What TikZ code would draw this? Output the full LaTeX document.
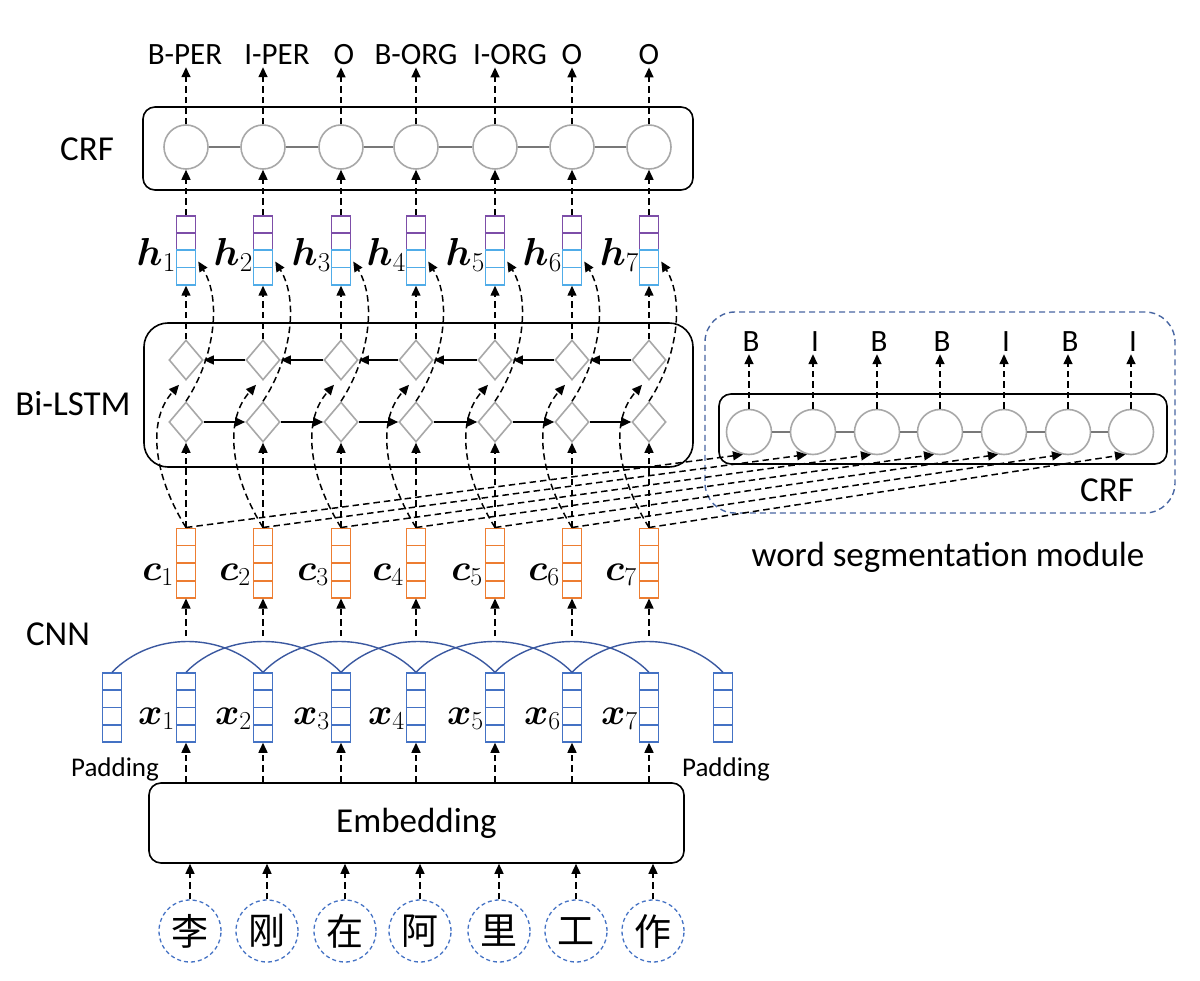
\documentclass[tikz,border=0pt]{standalone}
\usepackage{fix-cm}
\usepackage{fontspec}
\setmainfont{Carlito}
\newfontfamily\cjk{Noto Sans CJK SC}
\usepackage{bm}
\usetikzlibrary{shapes.geometric,arrows.meta,calc}
\definecolor{gcol}{RGB}{168,168,168}
\definecolor{glin}{RGB}{120,120,120}
\definecolor{hpur}{RGB}{125,78,168}
\definecolor{hblu}{RGB}{80,172,232}
\definecolor{corg}{RGB}{237,125,49}
\definecolor{xblu}{RGB}{68,114,196}
\definecolor{arcb}{RGB}{58,88,160}
\definecolor{wsb}{RGB}{72,102,162}
\begin{document}
\begin{tikzpicture}[x=1pt,y=-1pt,
  darr/.style={draw=black, line width=1.5pt, dash pattern=on 6.5pt off 4pt, -{Triangle[length=10pt,width=9pt]}},
  sarr/.style={draw=black, line width=1.5pt, -{Triangle[length=10pt,width=9pt]}},
  bbox/.style={draw=black, line width=1.6pt, rounded corners=12pt, inner sep=0pt},
  crfc/.style={circle, draw=gcol, line width=1.6pt, fill=white, minimum size=44pt, inner sep=0pt},
  wsc/.style={circle, draw=gcol, line width=1.6pt, fill=white, minimum size=45pt, inner sep=0pt},
  lstm/.style={diamond, draw=gcol, line width=1.6pt, fill=white, minimum width=34pt, minimum height=40pt, inner sep=0pt},
  vec/.style={draw=#1, line width=1.5pt, minimum width=19pt, inner sep=0pt, fill=white},
  gline/.style={draw=glin, line width=1.2pt},
  bigl/.style={font=\fontsize{35}{40}\selectfont, inner sep=0pt},
  tagl/.style={font=\fontsize{31}{36}\selectfont, inner sep=2pt},
  padl/.style={font=\fontsize{27}{30}\selectfont, inner sep=0pt},
  mlab/.style={font=\fontsize{37}{40}\selectfont, inner sep=0pt},
  hlab/.style={font=\fontsize{39}{42}\selectfont, inner sep=0pt},
  chc/.style={circle, draw=xblu, line width=1.3pt, dash pattern=on 4pt off 3pt, minimum size=62pt, inner sep=0pt, font=\cjk\fontsize{37}{40}\selectfont},
  arcl/.style={draw=arcb, line width=1.4pt}
]
\useasboundingbox (0,0) rectangle (1200,981);

% boxes
\node[bbox, minimum width=550pt, minimum height=83pt] (crfbox) at (418,148.5) {};
\node[bbox, rounded corners=24pt, minimum width=549pt, minimum height=144pt] (lstmbox) at (418.5,395) {};
\node[draw=wsb, line width=1.4pt, dash pattern=on 6pt off 4pt, rounded corners=30pt, minimum width=470pt, minimum height=201pt, inner sep=0pt] (wsbox) at (940,412.5) {};
\node[bbox, minimum width=448pt, minimum height=70pt] (wscrf) at (943,429) {};
\node[bbox, minimum width=535pt, minimum height=80pt, font=\fontsize{35}{40}\selectfont] (emb) at (416.5,823) {Embedding};

% side labels
\node[bigl] (lcrf) at (87,149) {CRF};
\node[bigl] (llstm) at (73,404) {Bi-LSTM};
\node[bigl] (lcnn) at (58,634) {CNN};
\node[bigl] (lwscrf) at (1107,490) {CRF};
\node[bigl] (lws) at (948,557) {word segmentation module};

% x vectors (with paddings)
\foreach \i/\x in {0/112,1/186,2/263,3/341,4/416,5/495,6/572,7/649,8/723}{
  \node[vec=xblu, minimum height=69pt] (x\i) at (\x,707.5) {};
  \foreach \k in {1,2,3}
    \draw[xblu, line width=1.5pt] ($(x\i.north west)!\k/4!(x\i.south west)$) -- ($(x\i.north east)!\k/4!(x\i.south east)$);
}
\node[padl] (pad0) at (115,769) {Padding};
\node[padl] (pad8) at (726,769) {Padding};

% CNN arcs
\foreach \a/\b in {0/2,1/3,2/4,3/5,4/6,5/7,6/8}
  \draw[arcl] (x\a.north) .. controls +(40,-41) and +(-40,-41) .. (x\b.north);

% columns
\foreach \i/\x/\ch/\tg/\tx in {1/186/李/B-PER/185,2/263/刚/I-PER/277,3/341/在/O/344,4/416/阿/B-ORG/416,5/495/里/I-ORG/510,6/572/工/O/572,7/649/作/O/649}{
  % characters
  \node[chc] (ch\i) at (\x+4,931) {\ch};
  \draw[darr] (ch\i.north) -- (ch\i.north |- emb.south);
  % embedding to x
  \draw[darr] (emb.north -| x\i.south) -- (x\i.south);
  \node[mlab, anchor=base east] (xl\i) at (\x-11,724) {$\bm{x}_{\i}$};
  % c vectors
  \node[vec=corg, minimum height=69.5pt] (c\i) at (\x,563) {};
  \foreach \k in {1,2,3}
    \draw[corg, line width=1.5pt] ($(c\i.north west)!\k/4!(c\i.south west)$) -- ($(c\i.north east)!\k/4!(c\i.south east)$);
  \node[mlab, anchor=base east] (cl\i) at (\x-12,580) {$\bm{c}_{\i}$};
  \coordinate (cn\i) at (\x,636);
  \draw[darr] (cn\i) -- (c\i.south);
  % LSTM
  \node[lstm] (td\i) at (\x,360) {};
  \node[lstm] (bd\i) at (\x,422) {};
  % h vectors
  \node[vec=hpur, minimum height=34pt] (hp\i) at (\x,233) {};
  \draw[hpur, line width=1.5pt] (hp\i.west) -- (hp\i.east);
  \node[vec=hblu, minimum height=35pt] (hb\i) at (\x,267.5) {};
  \draw[hblu, line width=1.5pt] (hb\i.west) -- (hb\i.east);
  \node[hlab, anchor=base east] (hl\i) at (\x-10,266) {$\bm{h}_{\i}$};
  % CRF
  \node[crfc] (crf\i) at (\x,147) {};
  \node[tagl, anchor=base] (tl\i) at (\tx,65) {\tg};
  % connections
  \draw[darr] (c\i.north) -- (bd\i.south);
  \draw[darr] (td\i.north) -- (hb\i.south);
  \draw[darr] (hp\i.north) -- (crf\i.south);
  \draw[darr] (crf\i.north) -- (crf\i.north |- tl\i.south);
}

% LSTM chains and CRF chain
\foreach \i/\j in {1/2,2/3,3/4,4/5,5/6,6/7}{
  \draw[sarr] (bd\i.east) -- (bd\j.west);
  \draw[sarr] (td\j.west) -- (td\i.east);
  \draw[gline] (crf\i.east) -- (crf\j.west);
}

% curved connections
\foreach \i in {1,...,7}{
  \draw[darr] (c\i.north) .. controls +(-30,-48) and +(-34,38) .. ($(td\i.south)+(-7,4)$);
  \draw[darr] (bd\i.north) .. controls +(28,-42) and +(24,39) .. ($(hb\i.east)+(2,-6)$);
}

% word segmentation CRF
\foreach \i/\x/\tg in {1/749/B,2/813/I,3/877/B,4/940/B,5/1004/I,6/1068/B,7/1131/I}{
  \node[wsc] (ws\i) at (\x,432) {};
  \node[tagl, anchor=base] (wl\i) at (\x+2,352) {\tg};
  \draw[darr] (ws\i.north) -- (ws\i.north |- wl\i.south);
}
\foreach \i/\j in {1/2,2/3,3/4,4/5,5/6,6/7}
  \draw[gline] (ws\i.east) -- (ws\j.west);

% c to word segmentation
\foreach \i in {1,...,7}
  \draw[darr] (c\i.north) -- (ws\i.-105);
\end{tikzpicture}
\end{document}
